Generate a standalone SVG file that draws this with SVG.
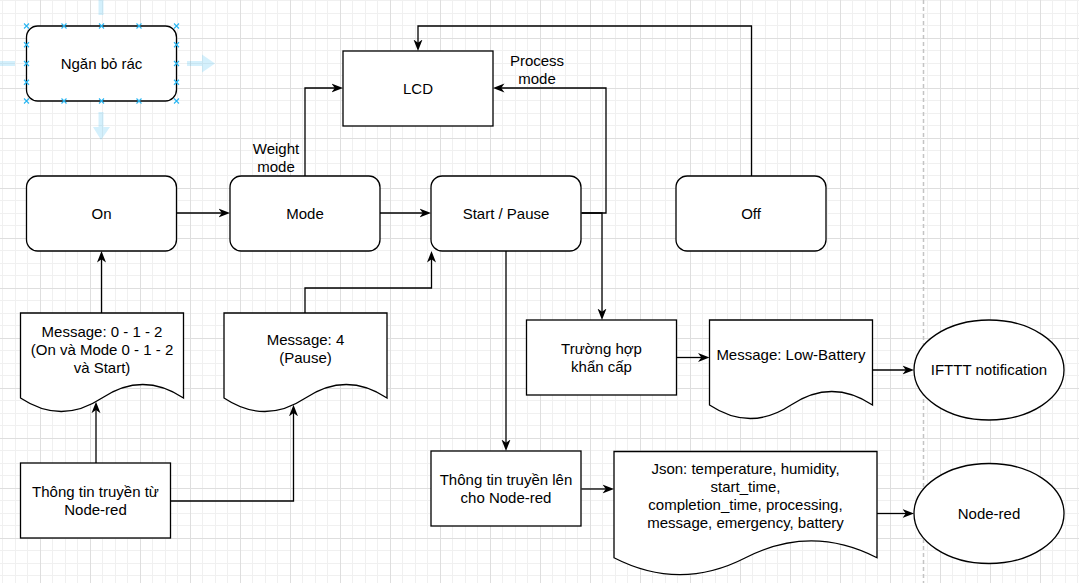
<svg xmlns="http://www.w3.org/2000/svg" width="1079" height="583" viewBox="0 0 1079 583">
<style>
.n{fill:#fff;stroke:#000;stroke-width:1.3}
.t{font-family:"Liberation Sans",Arial,Helvetica,sans-serif;font-size:15px;fill:#000;text-anchor:middle}
.c{fill:none;stroke:#000;stroke-width:1.3;marker-end:url(#ah)}
.sel{stroke:#29b6f2;stroke-width:1.1;fill:none}
.hov{fill:#29b6f2;fill-opacity:0.2}
</style>
<defs>
<pattern id="grid" patternUnits="userSpaceOnUse" x="40" y="38" width="50" height="50">
<rect x="12" y="0" width="1" height="50" fill="#f0f0f0"/>
<rect x="25" y="0" width="1" height="50" fill="#f0f0f0"/>
<rect x="37" y="0" width="1" height="50" fill="#f0f0f0"/>
<rect x="0" y="12" width="50" height="1" fill="#f0f0f0"/>
<rect x="0" y="25" width="50" height="1" fill="#f0f0f0"/>
<rect x="0" y="37" width="50" height="1" fill="#f0f0f0"/>
<rect x="0" y="0" width="1" height="50" fill="#dedede"/>
<rect x="0" y="0" width="50" height="1" fill="#dedede"/>
</pattern>
<marker id="ah" markerUnits="userSpaceOnUse" markerWidth="12" markerHeight="10" viewBox="0 0 12 10" refX="4.5" refY="5" orient="auto">
<path d="M0,0.5 L11.5,5 L0,9.5 L3.3,5 Z" fill="#000"/>
</marker>
</defs>
<rect width="1079" height="583" fill="#fff"/>
<rect width="1079" height="583" fill="url(#grid)"/>
<line x1="923.5" y1="0" x2="923.5" y2="583" stroke="#c4c4c4" stroke-width="1.5" stroke-dasharray="4,3"/>

<g id="connectors">
<path class="c" d="M751.5,176 V26 H418 V44"/>
<path class="c" d="M305,176 V88 H336"/>
<path class="c" d="M581.5,213 H606 V88 H500"/>
<path class="c" d="M581.5,213 H602 V313"/>
<path class="c" d="M176.5,213 H223"/>
<path class="c" d="M380,213 H424"/>
<path class="c" d="M506,251 V444"/>
<path class="c" d="M101.5,313 V258"/>
<path class="c" d="M305,313 V288 H431.5 V258"/>
<path class="c" d="M96,463 V408.7"/>
<path class="c" d="M170.5,501 H293.5 V411.8"/>
<path class="c" d="M676.5,357.5 H702.5"/>
<path class="c" d="M581.5,489 H607"/>
<path class="c" d="M872.5,370 H907"/>
<path class="c" d="M877,513.5 H907"/>
</g>

<g id="node-ngan-bo-rac">
<rect class="n" x="26.5" y="26" width="150" height="75" rx="11.25"/>
<text class="t" x="101.5" y="69">Ngăn bỏ rác</text>
</g>
<g id="selection-ui">
<rect class="hov" x="98.5" y="0" width="5" height="15"/>
<rect class="hov" x="0" y="61" width="15" height="5"/>
<path class="hov" d="M187,61 H202 V54.5 L215,63.5 L202,72.5 V66 H187 Z"/>
<path class="hov" d="M98.5,112 H103.5 V127 H110 L101,140 L93,127 H98.5 Z"/>
<path class="sel" d="M24,23.5 l5,5 m0,-5 l-5,5 M61.5,23.5 l5,5 m0,-5 l-5,5 M99,23.5 l5,5 m0,-5 l-5,5 M136.5,23.5 l5,5 m0,-5 l-5,5 M174,23.5 l5,5 m0,-5 l-5,5 M24,98.5 l5,5 m0,-5 l-5,5 M61.5,98.5 l5,5 m0,-5 l-5,5 M99,98.5 l5,5 m0,-5 l-5,5 M136.5,98.5 l5,5 m0,-5 l-5,5 M174,98.5 l5,5 m0,-5 l-5,5 M24,42.25 l5,5 m0,-5 l-5,5 M24,61 l5,5 m0,-5 l-5,5 M24,79.75 l5,5 m0,-5 l-5,5 M174,42.25 l5,5 m0,-5 l-5,5 M174,61 l5,5 m0,-5 l-5,5 M174,79.75 l5,5 m0,-5 l-5,5"/>
</g>

<g id="node-lcd">
<rect class="n" x="343" y="51" width="150" height="75"/>
<text class="t" x="418" y="93.5">LCD</text>
</g>
<g id="label-weight-mode">
<text class="t" x="276" y="153.5">Weight</text>
<text class="t" x="276" y="171.5">mode</text>
</g>
<g id="label-process-mode">
<text class="t" x="537" y="66">Process</text>
<text class="t" x="537" y="84">mode</text>
</g>

<g id="node-on">
<rect class="n" x="26.5" y="176" width="150" height="75" rx="11.25"/>
<text class="t" x="101.5" y="218.5">On</text>
</g>
<g id="node-mode">
<rect class="n" x="230" y="176" width="150" height="75" rx="11.25"/>
<text class="t" x="305" y="218.5">Mode</text>
</g>
<g id="node-start-pause">
<rect class="n" x="431" y="176" width="150" height="75" rx="11.25"/>
<text class="t" x="506" y="218.5">Start / Pause</text>
</g>
<g id="node-off">
<rect class="n" x="676" y="176" width="150" height="75" rx="11.25"/>
<text class="t" x="751" y="218.5">Off</text>
</g>

<g id="node-msg-012">
<path class="n" d="M20.5,313 H183.5 V398 Q142.75,371 102,398 Q61.25,425 20.5,398 Z"/>
<text class="t" x="102" y="336.5">Message: 0 - 1 - 2</text>
<text class="t" x="102" y="354.5">(On và Mode 0 - 1 - 2</text>
<text class="t" x="102" y="372.5">và Start)</text>
</g>
<g id="node-msg-4">
<path class="n" d="M224,313 H387 V398 Q346.25,371 305.5,398 Q264.75,425 224,398 Z"/>
<text class="t" x="305.5" y="345">Message: 4</text>
<text class="t" x="305.5" y="363">(Pause)</text>
</g>
<g id="node-thong-tin-tu">
<rect class="n" x="20.5" y="463" width="150" height="75"/>
<text class="t" x="95.5" y="497">Thông tin truyền từ</text>
<text class="t" x="95.5" y="515">Node-red</text>
</g>

<g id="node-truong-hop">
<rect class="n" x="526.5" y="320" width="150" height="75"/>
<text class="t" x="601.5" y="354">Trường hợp</text>
<text class="t" x="601.5" y="372">khẩn cấp</text>
</g>
<g id="node-msg-low-battery">
<path class="n" d="M709.5,320 H872.5 V405 Q831.75,378 791,405 Q750.25,432 709.5,405 Z"/>
<text class="t" x="791" y="360">Message: Low-Battery</text>
</g>
<g id="node-ifttt">
<ellipse class="n" cx="989" cy="370" rx="75" ry="50"/>
<text class="t" x="989" y="375">IFTTT notification</text>
</g>

<g id="node-thong-tin-len">
<rect class="n" x="431" y="451" width="150" height="75"/>
<text class="t" x="506" y="485">Thông tin truyền lên</text>
<text class="t" x="506" y="503">cho Node-red</text>
</g>
<g id="node-json">
<path class="n" d="M614,451.5 H877 V557.75 Q811.25,524 745.5,557.75 Q679.75,591.5 614,557.75 Z"/>
<text class="t" x="745.5" y="473.5">Json: temperature, humidity,</text>
<text class="t" x="745.5" y="491.5">start_time,</text>
<text class="t" x="745.5" y="509.5">completion_time, processing,</text>
<text class="t" x="745.5" y="527.5">message, emergency, battery</text>
</g>
<g id="node-node-red">
<ellipse class="n" cx="989" cy="513.5" rx="75" ry="50"/>
<text class="t" x="989" y="518.5">Node-red</text>
</g>
</svg>
